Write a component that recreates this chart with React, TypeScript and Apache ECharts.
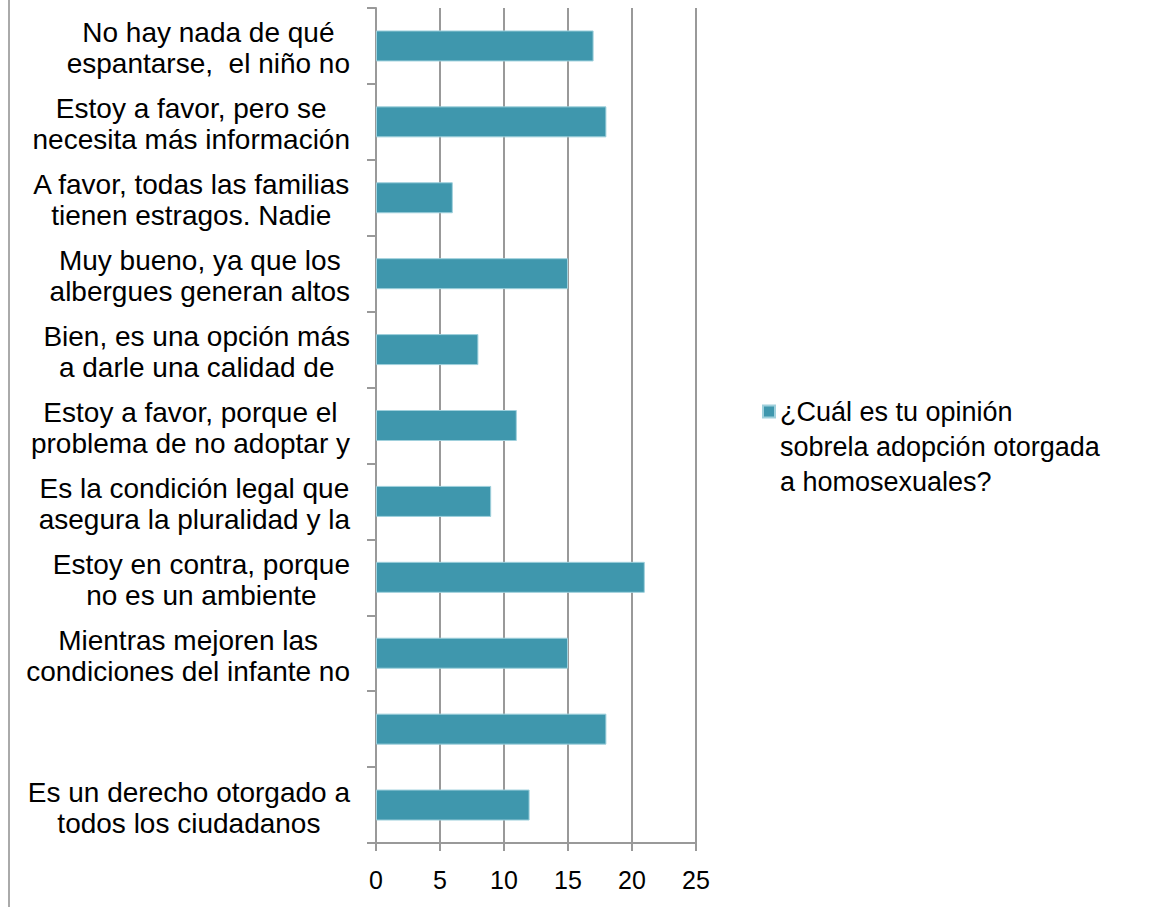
import React, { useEffect, useRef } from "react";
import * as echarts from "echarts";

const categories: string[] = [
  "No hay nada de qué\nespantarse,  el niño no",
  "Estoy a favor, pero se\nnecesita más información",
  "A favor, todas las familias\ntienen estragos. Nadie",
  "Muy bueno, ya que los\nalbergues generan altos",
  "Bien, es una opción más\na darle una calidad de",
  "Estoy a favor, porque el\nproblema de no adoptar y",
  "Es la condición legal que\nasegura la pluralidad y la",
  "Estoy en contra, porque\nno es un ambiente",
  "Mientras mejoren las\ncondiciones del infante no",
  "",
  "Es un derecho otorgado a\ntodos los ciudadanos",
];

const values: number[] = [17, 18, 6, 15, 8, 11, 9, 21, 15, 18, 12];

const seriesName = "¿Cuál es tu opinión\nsobrela adopción otorgada\na homosexuales?";

const xTicks = { min: 0, max: 25, interval: 5 };

export default function App() {
  const ref = useRef<HTMLDivElement>(null);
  useEffect(() => {
    if (!ref.current) return;
    const chart = echarts.init(ref.current, undefined, { renderer: "svg" });
    const axisColor = "#999999";
    chart.setOption({
      animation: false,
      textStyle: { fontFamily: "Liberation Sans" },
      grid: { left: 376, right: 462, top: 8, bottom: 64, containLabel: false },
      xAxis: {
        type: "value",
        min: xTicks.min,
        max: xTicks.max,
        interval: xTicks.interval,
        axisLine: { show: true, lineStyle: { color: axisColor, width: 2 } },
        axisTick: { show: true, length: 8, lineStyle: { color: axisColor, width: 2 } },
        splitLine: { show: true, lineStyle: { color: axisColor, width: 2 } },
        axisLabel: { color: "#000", fontSize: 25, margin: 24, fontFamily: "Liberation Sans" },
      },
      yAxis: {
        type: "category",
        inverse: true,
        data: categories,
        axisLine: { show: true, lineStyle: { color: axisColor, width: 2 } },
        axisTick: { show: true, length: 9, alignWithLabel: false, lineStyle: { color: axisColor, width: 2 } },
        splitLine: { show: false },
        axisLabel: {
          color: "#000",
          fontSize: 28,
          lineHeight: 31,
          align: "right",
          margin: 26,
          interval: 0,
          padding: [5, 0, 0, 0],
          fontFamily: "Liberation Sans",
          formatter: (v: string) =>
            v === "" ? "" : v.split("\n").map((l) => "{c|" + l + "}").join("\n"),
          rich: {
            c: {
              align: "center",
              color: "#000",
              fontSize: 28,
              lineHeight: 31,
              fontFamily: "Liberation Sans",
            },
          },
        },
      },
      legend: {
        show: true,
        left: 762,
        top: 324,
        padding: 0,
        orient: "vertical",
        icon: "rect",
        itemWidth: 12,
        itemHeight: 12,
        itemGap: 0,
        data: [seriesName],
        formatter: (name: string) => "\n\n" + name,
        textStyle: {
          color: "#000",
          fontSize: 27,
          lineHeight: 35,
          fontFamily: "Liberation Sans",
        },
      },
      series: [
        {
          name: seriesName,
          type: "bar",
          data: values,
          barWidth: 31,
          itemStyle: { color: "#3F97AD", borderColor: "#9fd0dc", borderWidth: 1 },
        },
      ],
      graphic: [
        {
          type: "line",
          shape: { x1: 9, y1: 0, x2: 9, y2: 907 },
          style: { stroke: "#aaaaaa", lineWidth: 2 },
        },
      ],
    });
    return () => chart.dispose();
  }, []);
  return <div ref={ref} style={{ width: 1158, height: 907, position: "absolute", left: 0, top: 0 }} />;
}
